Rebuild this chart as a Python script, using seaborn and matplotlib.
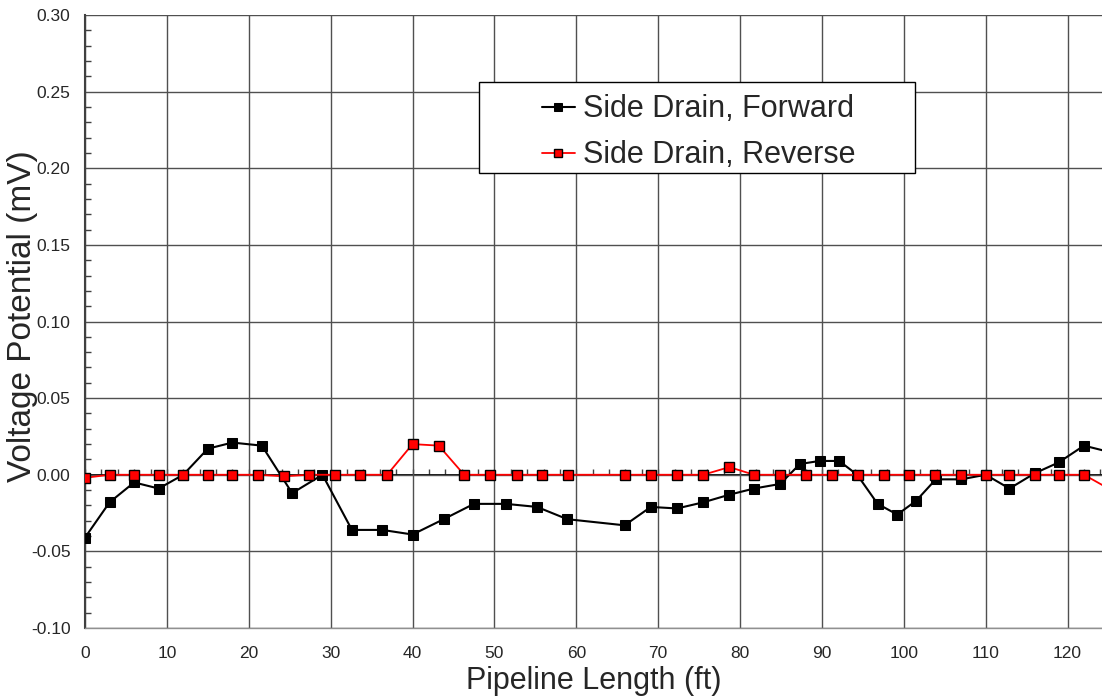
import numpy as np
import pandas as pd
import matplotlib
matplotlib.use('Agg')
import matplotlib.pyplot as plt
from matplotlib.ticker import MultipleLocator
from matplotlib.patches import Rectangle
import seaborn as sns

# valores
fwd_x = [0, 3, 6, 9, 12, 15, 18, 21.6, 25.3, 29, 32.6, 36.3, 40, 43.8, 47.5, 51.4,
         55.2, 58.9, 65.9, 69.1, 72.3, 75.5, 78.7, 81.7, 84.9, 87.3, 89.7, 92.1,
         94.3, 96.8, 99.2, 101.5, 103.9, 107, 110, 112.9, 116, 118.9, 122, 125]
fwd_y = [-0.041, -0.018, -0.005, -0.009, 0.0, 0.017, 0.021, 0.019, -0.012, 0.0,
         -0.036, -0.036, -0.039, -0.029, -0.019, -0.019, -0.021, -0.029, -0.033,
         -0.021, -0.022, -0.018, -0.013, -0.009, -0.006, 0.007, 0.009, 0.009,
         0.0, -0.019, -0.026, -0.017, -0.003, -0.003, 0.0, -0.009, 0.001, 0.008,
         0.019, 0.015]

rev_x = [0, 3, 6, 9, 12, 15, 18, 21.1, 24.3, 27.4, 30.5, 33.6, 36.9, 40, 43.2,
         46.3, 49.5, 52.7, 55.8, 59, 65.9, 69.1, 72.3, 75.5, 78.7, 81.7, 84.9,
         88.1, 91.2, 94.4, 97.6, 100.6, 103.8, 107, 110, 112.9, 116, 118.9, 122, 125]
rev_y = [-0.002, 0.0, 0.0, 0.0, 0.0, 0.0, 0.0, 0.0, -0.001, 0.0, 0.0, 0.0, 0.0,
         0.020, 0.019, 0.0, 0.0, 0.0, 0.0, 0.0, 0.0, 0.0, 0.0, 0.0, 0.005, 0.0,
         0.0, 0.0, 0.0, 0.0, 0.0, 0.0, 0.0, 0.0, 0.0, 0.0, 0.0, 0.0, 0.0, -0.009]

df_fwd = pd.DataFrame({'x': fwd_x, 'y': fwd_y})
df_rev = pd.DataFrame({'x': rev_x, 'y': rev_y})

sns.set_style('white')
plt.rcParams['font.family'] = ['Liberation Sans', 'DejaVu Sans']

fig = plt.figure(figsize=(11.02, 6.98), dpi=100)
ax = fig.add_axes([85 / 1102, 70 / 698, 1017 / 1102, 613 / 698])

sns.lineplot(data=df_fwd, x='x', y='y', ax=ax, color='black', lw=1.5, marker='s',
             markersize=7.5, markeredgecolor='black', markerfacecolor='black',
             label='Side Drain, Forward', sort=False, zorder=4)
sns.lineplot(data=df_rev, x='x', y='y', ax=ax, color='red', lw=1.3, marker='s',
             markersize=7.5, markeredgecolor='black', markerfacecolor='red',
             markeredgewidth=1.0, label='Side Drain, Reverse', sort=False, zorder=5)

ax.set_xlim(0, 124.2)
ax.set_ylim(-0.10, 0.30)
ax.xaxis.set_major_locator(MultipleLocator(10))
ax.yaxis.set_major_locator(MultipleLocator(0.05))
ax.yaxis.set_minor_locator(MultipleLocator(0.01))
ax.yaxis.set_major_formatter(matplotlib.ticker.FormatStrFormatter('%.2f'))

ax.grid(True, which='major', color='#505050', lw=1.0)
ax.set_axisbelow(True)

for s in ['top', 'right']:
    ax.spines[s].set_visible(False)
ax.spines['bottom'].set_color('#909090')
ax.spines['bottom'].set_linewidth(1.0)
ax.spines['left'].set_color('#404040')
ax.spines['left'].set_linewidth(1.5)

ax.tick_params(axis='x', which='both', length=0, pad=13, labelsize=12.5)
ax.tick_params(axis='y', which='major', direction='out', length=6, width=1.2,
               color='#404040', labelsize=12.5, pad=4.5)
ax.tick_params(axis='y', which='minor', direction='in', length=4, width=1.0,
               color='#404040', left=True)

# eje en y = 0 con marcas
sec = ax.secondary_xaxis(0.25)
sec.xaxis.set_major_locator(MultipleLocator(10))
sec.xaxis.set_minor_locator(MultipleLocator(2))
sec.tick_params(which='both', direction='in', length=4, width=1.0, labelbottom=False,
                color='#404040')
sec.spines['bottom'].set_color('black')
sec.spines['bottom'].set_linewidth(1.3)

ax.set_xlabel('Pipeline Length (ft)', fontsize=22, labelpad=3.5)
ax.set_ylabel('Voltage Potential (mV)', fontsize=24)
ax.yaxis.set_label_coords(-0.046, 0.509)

# cuadro de la leyenda (estilo Excel, con mucho margen lateral)
ax.add_patch(Rectangle((0.3874, 0.7423), 0.4287, 0.1484, transform=ax.transAxes,
                       facecolor='white', edgecolor='black', lw=1.0, zorder=9))
leg = ax.legend(loc='center left', bbox_to_anchor=(0.449, 0.8086), fontsize=22,
                frameon=False, handlelength=1.1, handletextpad=0.26, markerscale=0.7,
                borderpad=0, labelspacing=0.53, borderaxespad=0)
leg.set_zorder(10)

fig.savefig('out.png', dpi=100)
